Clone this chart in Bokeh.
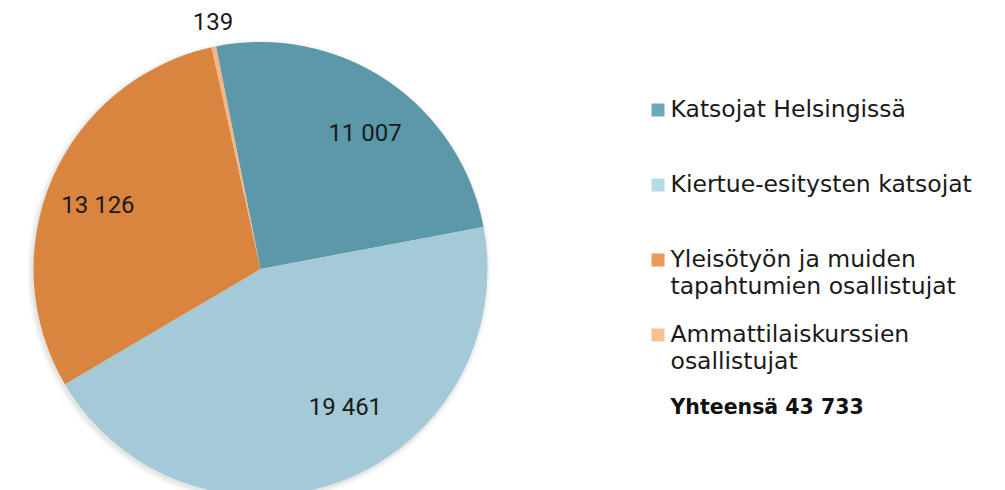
import numpy as np
from bokeh.plotting import figure
from bokeh.models import Range1d
from bokeh.core.properties import value
from bokeh.embed import file_html
from bokeh.resources import INLINE

# ---- data ----
categories = ["Katsojat Helsingissä", "Kiertue-esitysten katsojat",
              "Yleisötyön ja muiden tapahtumien osallistujat",
              "Ammattilaiskurssien osallistujat"]
legend_lines = [["Katsojat Helsingissä"], ["Kiertue-esitysten katsojat"],
                ["Yleisötyön ja muiden", "tapahtumien osallistujat"],
                ["Ammattilaiskurssien", "osallistujat"]]
values = [11007, 19461, 13126, 139]
value_labels = ["11 007", "19 461", "13 126", "139"]
total_label = "Yhteensä 43 733"

# ---- style ----
slice_colors = ["#5b98a9", "#a3cad6", "#d98540", "#f4b887"]
legend_colors = ["#6aa7b7", "#b4dbe8", "#ec9a57", "#f8c193"]
W, H = 1005, 490
cx, cy, R = 260, 221.5, 227
start_deg = 101.3
label_rf = [0.755, 0.714, 0.77, 1.11]
label_da = [-3.6, 11.0, 2.0, -1.0]
NUM_FONT = "Roboto"
LEG_FONT = "DejaVu Sans"
txt_color = "#1a1a1a"

p = figure(width=W, height=H, x_range=Range1d(0, W), y_range=Range1d(0, H),
           output_backend="svg", toolbar_location=None, min_border=0)
p.axis.visible = False
p.grid.visible = False
p.outline_line_color = None
p.background_fill_color = "white"

# soft shadow
for i, a in enumerate([0.045, 0.035, 0.025]):
    p.circle(x=cx - 1.5, y=cy - 2, radius=R + 1 + 2 * i, fill_color="black",
             fill_alpha=a, line_color=None)

vals = np.array(values, dtype=float)
frac = vals / vals.sum()
cum = np.concatenate([[0], np.cumsum(frac)])
starts = np.radians(start_deg - cum[:-1] * 360)
ends = np.radians(start_deg - cum[1:] * 360)
p.wedge(x=cx, y=cy, radius=R, start_angle=starts, end_angle=ends,
        direction="clock", fill_color=slice_colors, line_color=None)

mids = (starts + ends) / 2 + np.radians(label_da)
lx = cx + np.array(label_rf) * R * np.cos(mids)
ly = cy + np.array(label_rf) * R * np.sin(mids)
p.text(x=lx, y=ly, text=value_labels, text_align="center", text_baseline="middle",
       text_font=value(NUM_FONT), text_font_size="24px", text_color=txt_color)

# legend
sq_x, txt_x = 657.5, 670
base0, step, lh = 373, 75, 27
text_lift = 9
for i, lines in enumerate(legend_lines):
    b = base0 - i * step
    p.rect(x=sq_x, y=b + 7.5, width=13, height=13, fill_color=legend_colors[i],
           line_color=None)
    for j, ln in enumerate(lines):
        p.text(x=txt_x, y=b - j * lh + text_lift, text=[ln], text_align="left",
               text_baseline="alphabetic", text_font=value(LEG_FONT),
               text_font_size="23.5px", text_color=txt_color)
p.text(x=txt_x, y=base0 - 4 * step + 2 + text_lift, text=[total_label], text_align="left",
       text_baseline="alphabetic", text_font=value(LEG_FONT), text_font_size="20.5px",
       text_font_style="bold", text_color="#111111")

open("out.html", "w").write(file_html(p, INLINE))
